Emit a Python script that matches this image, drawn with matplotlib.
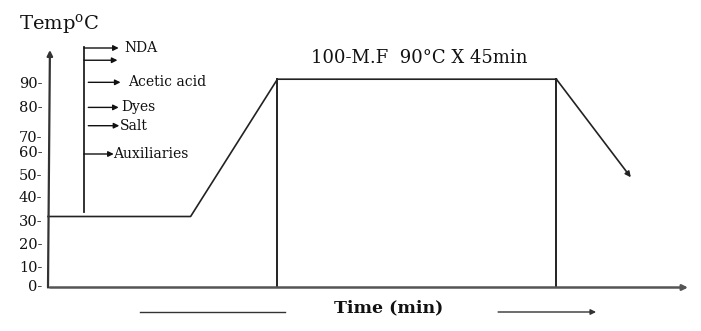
import numpy as np
import matplotlib
matplotlib.use("Agg")
import matplotlib.pyplot as plt
from matplotlib.transforms import ScaledTranslation

# ---------------- data ----------------
# temperature profile (time in min, temperature in degC)
profile_time = [0, 23, 37, 82]
profile_temp = [30, 30, 90, 90]
cooling_end = (94, 47)          # end of the cooling arrow
hold_label = "100-M.F  90°C X 45min"

# axis tick labels
tick_values = [0, 10, 20, 30, 40, 50, 60, 70, 80, 90]
tick_labels = [f"{v}-" for v in tick_values]

# chemical additions (names, level on the temperature axis)
add_names = ["NDA", "", "Acetic acid", "Dyes", "Salt", "Auxiliaries"]
add_levels = [103, 97.9, 88.7, 78.6, 72.5, 57.4]
add_time = 5.8                  # time of the additions line
add_line_range = (32, 103.5)

x_label = "Time (min)"
y_label = "Temp$^{\\mathregular{o}}$C"

# ---------------- layout (irregular hand-drawn y axis) ----------------
W, H = 701, 331
tick_px = np.array([285.7, 266, 243.3, 220, 196.7, 174, 151.7, 136.7, 106.7, 82.7]) - 3.5
vals_ext = np.array([-100.0] + tick_values + [300.0])
px_ext = np.concatenate([[tick_px[0] + 2.0 * 100], tick_px, [tick_px[-1] - 2.4 * 210]])


def fwd(t):
    return np.interp(t, vals_ext, -px_ext)


def inv(y):
    return np.interp(y, -px_ext, vals_ext)


plt.rcParams['font.family'] = ['DejaVu Serif']

fig = plt.figure(figsize=(W / 100, H / 100), dpi=100)
ax_left, ax_right, ax_bottom_px = 48, 688, 287.5
ax = fig.add_axes([ax_left / W, (H - ax_bottom_px) / H, (ax_right - ax_left) / W, ax_bottom_px / H])
ax.set_yscale('function', functions=(fwd, inv))
px_per_min = 6.2
ax.set_xlim(0, (ax_right - ax_left) / px_per_min)
ax.set_ylim(float(inv(-ax_bottom_px)), float(inv(0.0)))
for s in ax.spines.values():
    s.set_visible(False)
ax.set_xticks([])
ax.patch.set_alpha(0)

# y tick labels
ax.set_yticks(tick_values)
ax.set_yticklabels(tick_labels, fontsize=10.5, color='#111')
ax.tick_params(axis='y', length=0, pad=4.0)
ax.yaxis.set_minor_locator(matplotlib.ticker.NullLocator())
off = ScaledTranslation(0, -3.5 / 100, fig.dpi_scale_trans)
for lab in ax.get_yticklabels():
    lab.set_transform(lab.get_transform() + off)

axis_col = '#555555'
line_col = '#222222'
arr = dict(arrowstyle='-|>', mutation_scale=8, shrinkA=0, shrinkB=0)

# axes arrows
ax.annotate('', xy=(1.0, 0), xytext=(0.003, 0), xycoords='axes fraction',
            arrowprops=dict(arr, color=axis_col, lw=1.8))
ax.annotate('', xy=(0.003, 1 - 50 / ax_bottom_px), xytext=(0.0, 0.0), xycoords='axes fraction',
            arrowprops=dict(arr, color='#333', lw=1.6))

# profile
ax.plot(profile_time, profile_temp, color=line_col, lw=1.2, clip_on=False)
ymin = ax.get_ylim()[0]
for t in profile_time[2:]:
    ax.plot([t, t], [ymin, 90], color=line_col, lw=1.4)
ax.annotate('', xy=cooling_end, xytext=(profile_time[-1], profile_temp[-1]),
            arrowprops=dict(arr, color=line_col, lw=1.2))
ax.text((profile_time[2] + profile_time[3]) / 2 + 0.3, 98.7, hold_label, ha='center', va='center',
        fontsize=13, color='#111')

# additions
ax.plot([add_time, add_time], add_line_range, color=line_col, lw=1.3)
starts = [add_time, add_time, 6.5, 6.5, 6.5, add_time]
ends = [11.4, 11.2, 11.7, 11.4, 11.5, 10.6]
label_x = [12.3, None, 12.9, 11.9, 11.6, 10.5]
for name, lvl, x0, x1, lx in zip(add_names, add_levels, starts, ends, label_x):
    ax.annotate('', xy=(x1, lvl), xytext=(x0, lvl), arrowprops=dict(arr, color='#111', lw=1.0),
                annotation_clip=False)
    if name:
        ax.text(lx, lvl, name, ha='left', va='center', fontsize=10, color='#111')

# y label
ax.text(-4.6, 112.6, y_label, ha='left', va='center', fontsize=14, color='#111')

# x label with guide lines
ax.text(62.8 - 7.8, -12.9, x_label, ha='center', va='center', fontsize=12.5, fontweight='bold',
        color='#111', clip_on=False)
ax.plot([14.8, 38.2], [-14.9, -14.9], color='#333', lw=1.0, clip_on=False)
ax.annotate('', xy=(88.4, -14.9), xytext=(72.6, -14.9), arrowprops=dict(arr, color='#333', lw=1.0),
            annotation_clip=False)

fig.savefig('out.png', dpi=100)
